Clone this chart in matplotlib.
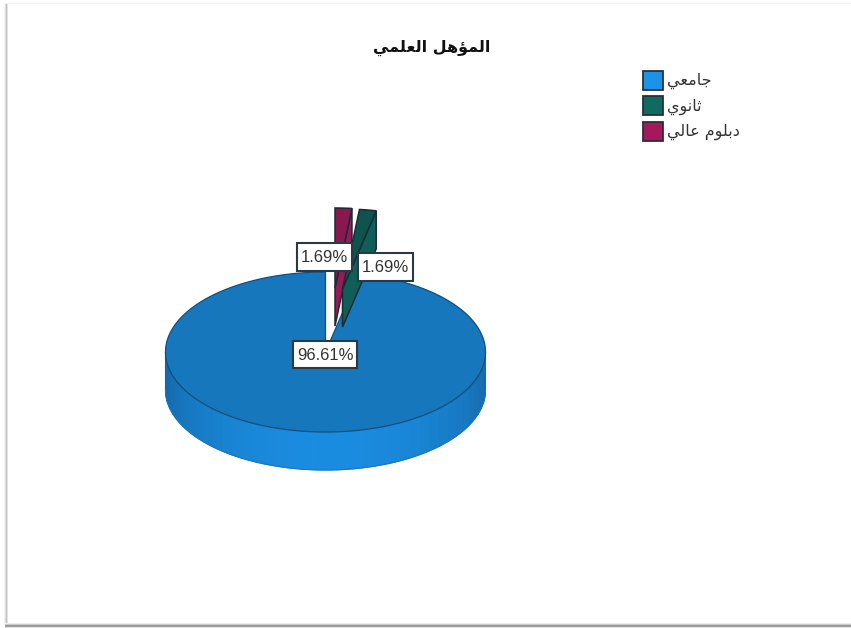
import numpy as np
import matplotlib
matplotlib.use('Agg')
import matplotlib.pyplot as plt
from matplotlib.colors import to_rgb
from matplotlib.patches import Polygon, Rectangle

title = 'المؤهل العلمي'
categories = ['جامعي', 'ثانوي', 'دبلوم عالي']
percents = [96.61, 1.69, 1.69]
percent_labels = ['96.61%', '1.69%', '1.69%']

top_colors = ['#1677bd', '#0d534e', '#8a1850']
wall_colors = ['#1a8ce0', '#0f5f58', '#961a56']
legend_colors = ['#1a93e8', '#0f6a62', '#a5195a']
edge_color = '#1c2b33'

# arabic letters -> (isolated, final, initial, medial) presentation forms
FORMS = {
    'ا': ('\uFE8D', '\uFE8E', None, None),
    'ؤ': ('\uFE85', '\uFE86', None, None),
    'د': ('\uFEA9', '\uFEAA', None, None),
    'و': ('\uFEED', '\uFEEE', None, None),
    'ب': ('\uFE8F', '\uFE90', '\uFE91', '\uFE92'),
    'ث': ('\uFE99', '\uFE9A', '\uFE9B', '\uFE9C'),
    'ج': ('\uFE9D', '\uFE9E', '\uFE9F', '\uFEA0'),
    'ع': ('\uFEC9', '\uFECA', '\uFECB', '\uFECC'),
    'ل': ('\uFEDD', '\uFEDE', '\uFEDF', '\uFEE0'),
    'م': ('\uFEE1', '\uFEE2', '\uFEE3', '\uFEE4'),
    'ن': ('\uFEE5', '\uFEE6', '\uFEE7', '\uFEE8'),
    'ه': ('\uFEE9', '\uFEEA', '\uFEEB', '\uFEEC'),
    'ي': ('\uFEF1', '\uFEF2', '\uFEF3', '\uFEF4'),
}


def shape(text):
    """matplotlib does no shaping, so join the letters by hand and reverse"""
    out = []
    for i, ch in enumerate(text):
        if ch not in FORMS:
            out.append(ch)
            continue
        prev = text[i - 1] if i > 0 else ' '
        nxt = text[i + 1] if i + 1 < len(text) else ' '
        joins_prev = prev in FORMS and FORMS[prev][2] is not None
        joins_next = nxt in FORMS and FORMS[ch][2] is not None
        if joins_prev and joins_next:
            out.append(FORMS[ch][3])
        elif joins_prev:
            out.append(FORMS[ch][1])
        elif joins_next:
            out.append(FORMS[ch][2])
        else:
            out.append(FORMS[ch][0])
    return ''.join(reversed(out))


W, H = 851, 628
cx, cy = 325.5, 352
rx, ry = 160, 80
depth = 38

fig = plt.figure(figsize=(W / 100, H / 100), dpi=100)
ax = fig.add_axes([0, 0, 1, 1])
ax.set_xlim(0, W)
ax.set_ylim(H, 0)
ax.axis('off')

# soft picture frame
for i, c in enumerate(['#f4f4f4', '#dcdcdc', '#c4c4c4', '#e2e2e2']):
    ax.add_patch(Rectangle((4 + i, 3), 1, 622, color=c, lw=0))
for i, c in enumerate(['#ececec', '#cccccc', '#969696', '#a0a0a0', '#e0e0e0']):
    ax.add_patch(Rectangle((5, 622.5 + i), W - 5, 1, color=c, lw=0))
ax.add_patch(Rectangle((5, 3), W - 5, 1, color='#f2f2f2', lw=0))


def rim(t):
    return rx * np.sin(t), -ry * np.cos(t)


# sector angles run clockwise from 12 o'clock: the two small slices first, then the big one
small_1 = np.radians(percents[2] * 3.6)
small_2 = small_1 + np.radians(percents[1] * 3.6)

# big slice: front wall in vertical strips for the shading
t_big = np.linspace(small_2, 2 * np.pi, 300)
xb, yb = rim(t_big)
strips = np.linspace(np.pi / 2, 3 * np.pi / 2, 41)
side = np.array(to_rgb('#1467a6'))
mid = np.array(to_rgb(wall_colors[0]))
for a, b in zip(strips[:-1], strips[1:]):
    tt = np.linspace(a, b, 6)
    x, y = rim(tt)
    pts = np.r_[np.c_[cx + x, cy + y], np.c_[cx + x[::-1], cy + y[::-1] + depth]]
    k = abs(np.cos((a + b) / 2)) ** 1.2
    col = side + (mid - side) * k
    ax.add_patch(Polygon(pts, closed=True, fc=col, ec=col, lw=0.8, zorder=2))
x, y = rim(np.linspace(np.pi / 2, 3 * np.pi / 2, 200))
ax.plot(cx + x, cy + y + depth, color='#1a78c0', lw=0.8, zorder=2)

pts = np.r_[[[cx, cy]], np.c_[cx + xb, cy + yb]]
ax.add_patch(Polygon(pts, closed=True, fc=top_colors[0], ec='#124f7e', lw=0.9, zorder=3))


def small_slice(t0, t1, dx, dy, top_c, wall_c, z):
    t = np.linspace(t0, t1, 8)
    x, y = rim(t)
    x0, y0 = cx + dx, cy + dy
    # cut face on the right of the wedge
    wall = [(x0 + x[-1], y0 + y[-1]), (x0 + x[-1], y0 + y[-1] + depth),
            (x0, y0 + depth), (x0, y0)]
    ax.add_patch(Polygon(wall, closed=True, fc=wall_c, ec=edge_color, lw=1.1, zorder=z))
    face = np.r_[[[x0, y0]], np.c_[x0 + x, y0 + y]]
    ax.add_patch(Polygon(face, closed=True, fc=top_c, ec=edge_color, lw=1.1, zorder=z))


small_slice(0, small_1, 9.5, -64, top_colors[2], wall_colors[2], 4)
small_slice(small_1, small_2, 17, -63, top_colors[1], wall_colors[1], 5)

# value labels
boxes = [(325, 354.5, 64, 27), (324.5, 256.5, 55, 28), (385.5, 267, 55, 28)]
for text, (bx, by, bw, bh) in zip([percent_labels[0], percent_labels[2], percent_labels[1]], boxes):
    ax.add_patch(Rectangle((bx - bw / 2, by - bh / 2), bw, bh, fc='white', ec='#2a3a44', lw=1.5, zorder=6))
    ax.text(bx, by + 0.5, text, ha='center', va='center', fontsize=12, color='#333333',
            family='Liberation Sans', zorder=7)

ax.text(432, 48, shape(title), ha='center', va='center', fontsize=11.5, fontweight='bold',
        color='#111111', family='DejaVu Sans')

# legend
for i, (name, c) in enumerate(zip(categories, legend_colors)):
    y = 80 + i * 25.5
    ax.add_patch(Rectangle((643, y - 9.5), 20, 19, fc=c, ec='#2a3036', lw=1.3))
    ax.text(667, y + 1, shape(name), ha='left', va='center', fontsize=11.5, color='#333333',
            family='DejaVu Sans')

fig.savefig('out.png', dpi=100)
